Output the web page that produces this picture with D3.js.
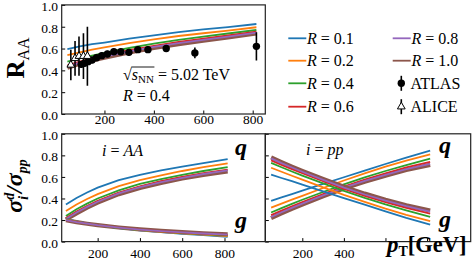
<!DOCTYPE html>
<html>
<head>
<meta charset="utf-8">
<script src="https://cdnjs.cloudflare.com/ajax/libs/d3/7.8.5/d3.min.js"></script>
<style>
    body { margin: 0; background: #fff; }
    svg text { font-family: "Liberation Serif", "DejaVu Serif", serif; fill: #000; }
</style>
</head>
<body>
<svg id="chart" width="474" height="269"></svg>
<script>
"use strict";

// jet radii and their colours
var radii = ["0.1", "0.2", "0.4", "0.6", "0.8", "1.0"];
var colors = ["#1f77b4", "#ff7f0e", "#2ca02c", "#d62728", "#9467bd", "#8c564b"];

// model curves, pT grid in GeV
var modelPt = [50, 100, 150, 200, 300, 400, 500, 600, 700, 815];

var raaModel = [
    [0.595, 0.62, 0.64, 0.655, 0.69, 0.72, 0.75, 0.775, 0.797, 0.825],
    [0.54, 0.565, 0.59, 0.61, 0.65, 0.685, 0.715, 0.74, 0.765, 0.795],
    [0.48, 0.51, 0.535, 0.56, 0.605, 0.645, 0.68, 0.71, 0.738, 0.77],
    [0.445, 0.48, 0.51, 0.535, 0.585, 0.625, 0.66, 0.69, 0.72, 0.755],
    [0.435, 0.47, 0.50, 0.525, 0.575, 0.615, 0.65, 0.68, 0.71, 0.745],
    [0.425, 0.46, 0.49, 0.515, 0.565, 0.605, 0.64, 0.672, 0.703, 0.738]
];

var aaQuark = [
    [0.345, 0.405, 0.455, 0.50, 0.57, 0.62, 0.66, 0.695, 0.727, 0.765],
    [0.283, 0.345, 0.395, 0.44, 0.515, 0.57, 0.615, 0.655, 0.69, 0.725],
    [0.237, 0.30, 0.352, 0.40, 0.475, 0.535, 0.58, 0.62, 0.655, 0.69],
    [0.217, 0.278, 0.33, 0.378, 0.455, 0.513, 0.56, 0.60, 0.635, 0.668],
    [0.21, 0.27, 0.322, 0.37, 0.447, 0.505, 0.552, 0.592, 0.627, 0.66],
    [0.205, 0.262, 0.315, 0.362, 0.44, 0.498, 0.545, 0.585, 0.618, 0.65]
];

var aaGluon = [
    [0.21, 0.187, 0.168, 0.152, 0.126, 0.105, 0.088, 0.073, 0.06, 0.045],
    [0.205, 0.185, 0.167, 0.152, 0.127, 0.107, 0.091, 0.077, 0.065, 0.052],
    [0.202, 0.183, 0.166, 0.152, 0.128, 0.109, 0.094, 0.081, 0.07, 0.058],
    [0.2, 0.182, 0.166, 0.152, 0.129, 0.111, 0.096, 0.084, 0.073, 0.062],
    [0.199, 0.181, 0.166, 0.152, 0.13, 0.112, 0.098, 0.086, 0.075, 0.064],
    [0.198, 0.181, 0.166, 0.153, 0.131, 0.113, 0.099, 0.087, 0.077, 0.067]
];

var ppQuark = [
    [0.378, 0.41, 0.44, 0.472, 0.535, 0.597, 0.658, 0.72, 0.78, 0.843],
    [0.315, 0.352, 0.389, 0.425, 0.497, 0.567, 0.632, 0.695, 0.752, 0.81],
    [0.27, 0.31, 0.35, 0.388, 0.46, 0.53, 0.595, 0.655, 0.71, 0.77],
    [0.246, 0.288, 0.328, 0.366, 0.44, 0.51, 0.575, 0.633, 0.688, 0.74],
    [0.228, 0.272, 0.313, 0.352, 0.428, 0.5, 0.563, 0.62, 0.672, 0.722],
    [0.218, 0.262, 0.304, 0.344, 0.42, 0.492, 0.555, 0.612, 0.664, 0.712]
];

var ppGluon = [
    [0.622, 0.59, 0.56, 0.528, 0.465, 0.403, 0.342, 0.28, 0.22, 0.157],
    [0.685, 0.648, 0.611, 0.575, 0.503, 0.433, 0.368, 0.305, 0.248, 0.19],
    [0.73, 0.69, 0.65, 0.612, 0.54, 0.47, 0.405, 0.345, 0.29, 0.23],
    [0.754, 0.712, 0.672, 0.634, 0.56, 0.49, 0.425, 0.367, 0.312, 0.26],
    [0.772, 0.728, 0.687, 0.648, 0.572, 0.5, 0.437, 0.38, 0.328, 0.278],
    [0.782, 0.738, 0.696, 0.656, 0.58, 0.508, 0.445, 0.388, 0.336, 0.288]
];

// measurements, R = 0.4
var atlasPt = [106, 119, 134, 150, 168, 189, 212, 238, 266, 299, 335, 376, 450, 566, 815];
var atlasRaa = [0.455, 0.465, 0.48, 0.495, 0.515, 0.535, 0.55, 0.57, 0.57, 0.565, 0.59, 0.59, 0.60, 0.56, 0.62];
var atlasErr = [0.03, 0.03, 0.03, 0.03, 0.03, 0.03, 0.03, 0.03, 0.03, 0.03, 0.03, 0.03, 0.03, 0.05, 0.13];

var alicePt = [64, 81, 97, 115, 131];
var aliceRaa = [0.45, 0.51, 0.53, 0.53, 0.53];
var aliceErr = [0.14, 0.16, 0.18, 0.21, 0.27];

var xTicks = [200, 400, 600, 800];
var yTicks = [0, 0.2, 0.4, 0.6, 0.8, 1.0];

var svg = d3.select("#chart");
svg.append("rect").attr("width", 474).attr("height", 269).attr("fill", "#fff");

var xTop = d3.scaleLinear().domain([27, 851]).range([61.7, 265.3]),
    yTop = d3.scaleLinear().domain([0, 1]).range([114, 4.9]),
    xLeft = d3.scaleLinear().domain([30, 993]).range([61.7, 265.3]),
    xRight = d3.scaleLinear().domain([22, 1010]).range([265.3, 470.7]),
    yBot = d3.scaleLinear().domain([0, 1]).range([241.6, 133.8]);

// draw order: wide brown band first, the rest on top
var order = [5, 0, 1, 2, 3, 4];
var lineWidth = function (i) { return i === 5 ? 4.2 : 1.8; };

var drawCurves = function (g, x, y, sets) {
    var line = d3.line()
        .x(function (d, j) { return x(modelPt[j]); })
        .y(function (d) { return y(d); });
    sets.forEach(function (set) {
        order.forEach(function (i) {
            g.append("path")
                .attr("d", line(set[i]))
                .attr("fill", "none")
                .attr("stroke", colors[i])
                .attr("stroke-width", lineWidth(i));
        });
    });
};

var drawAxes = function (x, y, yOffset, xOffset, showY, labelPad, xValues) {
    var ax = svg.append("g")
        .attr("transform", "translate(0," + yOffset + ")")
        .call(d3.axisBottom(x).tickValues(xTicks).tickSize(-3.5).tickPadding(labelPad)
            .tickFormat(function (d) { return xValues.indexOf(d) >= 0 ? d : ""; }));
    ax.select(".domain").remove();
    ax.selectAll("text").attr("font-size", 13.5).attr("font-family", null);

    var ay = svg.append("g")
        .attr("transform", "translate(" + xOffset + ",0)")
        .call(d3.axisLeft(y).tickValues(yTicks).tickSize(-3.5).tickPadding(3.7)
            .tickFormat(showY ? d3.format(".1f") : function () { return ""; }));
    ay.select(".domain").remove();
    ay.selectAll("text").attr("font-size", 13.5).attr("font-family", null).attr("dy", "0.4em");
};

var drawFrame = function (x, y) {
    svg.append("rect")
        .attr("x", x.range()[0]).attr("y", y.range()[1])
        .attr("width", x.range()[1] - x.range()[0])
        .attr("height", y.range()[0] - y.range()[1])
        .attr("fill", "none").attr("stroke", "#222").attr("stroke-width", 1.2);
};

var clip = function (id, x, y) {
    svg.append("clipPath").attr("id", id).append("rect")
        .attr("x", x.range()[0]).attr("y", y.range()[1])
        .attr("width", x.range()[1] - x.range()[0])
        .attr("height", y.range()[0] - y.range()[1]);
    return svg.append("g").attr("clip-path", "url(#" + id + ")");
};

// top panel: R_AA
var gTop = clip("clip-top", xTop, yTop);
drawCurves(gTop, xTop, yTop, [raaModel]);

atlasPt.forEach(function (p, i) {
    gTop.append("line")
        .attr("x1", xTop(p)).attr("x2", xTop(p))
        .attr("y1", yTop(atlasRaa[i] - atlasErr[i])).attr("y2", yTop(atlasRaa[i] + atlasErr[i]))
        .attr("stroke", "#000").attr("stroke-width", 1.6);
});
gTop.selectAll("circle.atlas")
    .data(atlasPt)
    .enter()
    .append("circle")
    .attr("cx", function (d) { return xTop(d); })
    .attr("cy", function (d, i) { return yTop(atlasRaa[i]); })
    .attr("r", 3.7)
    .attr("fill", "#000");

alicePt.forEach(function (p, i) {
    gTop.append("line")
        .attr("x1", xTop(p)).attr("x2", xTop(p))
        .attr("y1", yTop(aliceRaa[i] - aliceErr[i])).attr("y2", yTop(aliceRaa[i] + aliceErr[i]))
        .attr("stroke", "#000").attr("stroke-width", 1.6);
});
var triangle = d3.symbol().type(d3.symbolTriangle).size(26);
gTop.selectAll("path.alice")
    .data(alicePt)
    .enter()
    .append("path")
    .attr("d", triangle)
    .attr("transform", function (d, i) { return "translate(" + xTop(d) + "," + yTop(aliceRaa[i]) + ")"; })
    .attr("fill", "#fff").attr("stroke", "#000").attr("stroke-width", 1);

drawAxes(xTop, yTop, 114, 61.7, true, 0.5, xTicks);
drawFrame(xTop, yTop);

// bottom panels: quark and gluon fractions
var gLeft = clip("clip-left", xLeft, yBot);
drawCurves(gLeft, xLeft, yBot, [aaQuark, aaGluon]);
var gRight = clip("clip-right", xRight, yBot);
drawCurves(gRight, xRight, yBot, [ppQuark, ppGluon]);

drawAxes(xLeft, yBot, 241.6, 61.7, true, 6.5, xTicks);
drawAxes(xRight, yBot, 241.6, 265.3, false, 6.5, [200, 400]);
drawFrame(xLeft, yBot);
drawFrame(xRight, yBot);

// texts
var addText = function (x, y, parts, size, attrs) {
    var t = svg.append("text").attr("x", x).attr("y", y).attr("font-size", size);
    if (attrs) {
        Object.keys(attrs).forEach(function (k) { t.attr(k, attrs[k]); });
    }
    parts.forEach(function (p) {
        var s = t.append("tspan").text(p.t);
        if (p.style) s.attr("font-style", p.style);
        if (p.weight) s.attr("font-weight", p.weight);
        if (p.size) s.attr("font-size", p.size);
        if (p.dy) s.attr("dy", p.dy);
        if (p.dx) s.attr("dx", p.dx);
    });
    return t;
};

// sqrt(s_NN) = 5.02 TeV
var sq = addText(123, 80, [
    { t: "\u221a" },
    { t: "s", style: "italic" },
    { t: "NN", size: 11, dy: 3 },
    { t: " = 5.02 TeV", dy: -3 }
], 16);
var sqNode = sq.node();
var barY = sqNode.getExtentOfChar(0).y + 1;
svg.append("line")
    .attr("x1", sqNode.getEndPositionOfChar(0).x - 0.5)
    .attr("x2", sqNode.getEndPositionOfChar(3).x + 0.5)
    .attr("y1", barY).attr("y2", barY)
    .attr("stroke", "#000").attr("stroke-width", 0.9);

addText(123, 101, [{ t: "R", style: "italic" }, { t: " = 0.4" }], 16);
addText(102, 156, [{ t: "i", style: "italic" }, { t: " = " }, { t: "AA", style: "italic" }], 16);
addText(306, 155, [{ t: "i", style: "italic" }, { t: " = " }, { t: "pp", style: "italic" }], 16);

var bi = { "font-weight": "bold", "font-style": "italic" };
addText(235, 155, [{ t: "q" }], 24, bi);
addText(235, 228, [{ t: "g" }], 24, bi);
addText(439, 153, [{ t: "q" }], 24, bi);
addText(439, 227, [{ t: "g" }], 24, bi);

addText(387, 252, [
    { t: "p", style: "italic", size: 23 },
    { t: "T", size: 14, dy: 4, style: "normal" },
    { t: "[GeV]", style: "normal", dy: -4 }
], 22.5, { "font-weight": "bold" });

// y labels
addText(0, 0, [{ t: "R", weight: "bold" }, { t: "AA", size: 16, dy: 5 }], 25,
    { transform: "translate(24,58) rotate(-90)", "text-anchor": "middle" });

addText(0, 0, [
    { t: "\u03c3" },
    { t: "d", size: 14, dy: -8 },
    { t: "i", size: 14, dx: -7, dy: 14 },
    { t: "/", dx: 3, dy: -6 },
    { t: "\u03c3" },
    { t: "pp", size: 14, dy: 5 }
], 24, { transform: "translate(22,186) rotate(-90)", "text-anchor": "middle",
    "font-weight": "bold", "font-style": "italic" });

// legend
var legend = svg.append("g");
var legendRows = [38.3, 60.7, 83.3, 106.7];
radii.forEach(function (r, i) {
    var col = i < 4 ? 0 : 1,
        row = i < 4 ? i : i - 4,
        lx = col === 0 ? 288.3 : 392.7,
        ly = legendRows[row];
    legend.append("line")
        .attr("x1", lx).attr("x2", lx + 18)
        .attr("y1", ly).attr("y2", ly)
        .attr("stroke", colors[i]).attr("stroke-width", 1.8);
    addText(lx + 18.7, ly + 5.5, [{ t: "R", style: "italic" }, { t: " = " + r }], 16);
});

var markX = 401.3;
[["ATLAS", legendRows[2]], ["ALICE", legendRows[3]]].forEach(function (m, i) {
    legend.append("line")
        .attr("x1", markX).attr("x2", markX)
        .attr("y1", m[1] - 7.5).attr("y2", m[1] + 7.5)
        .attr("stroke", "#000").attr("stroke-width", 1.6);
    if (i === 0) {
        legend.append("circle").attr("cx", markX).attr("cy", m[1]).attr("r", 3.7).attr("fill", "#000");
    } else {
        legend.append("path").attr("d", triangle)
            .attr("transform", "translate(" + markX + "," + m[1] + ")")
            .attr("fill", "#fff").attr("stroke", "#000").attr("stroke-width", 1);
    }
    addText(410.5, m[1] + 5.5, [{ t: m[0] }], 16);
});
</script>
</body>
</html>
